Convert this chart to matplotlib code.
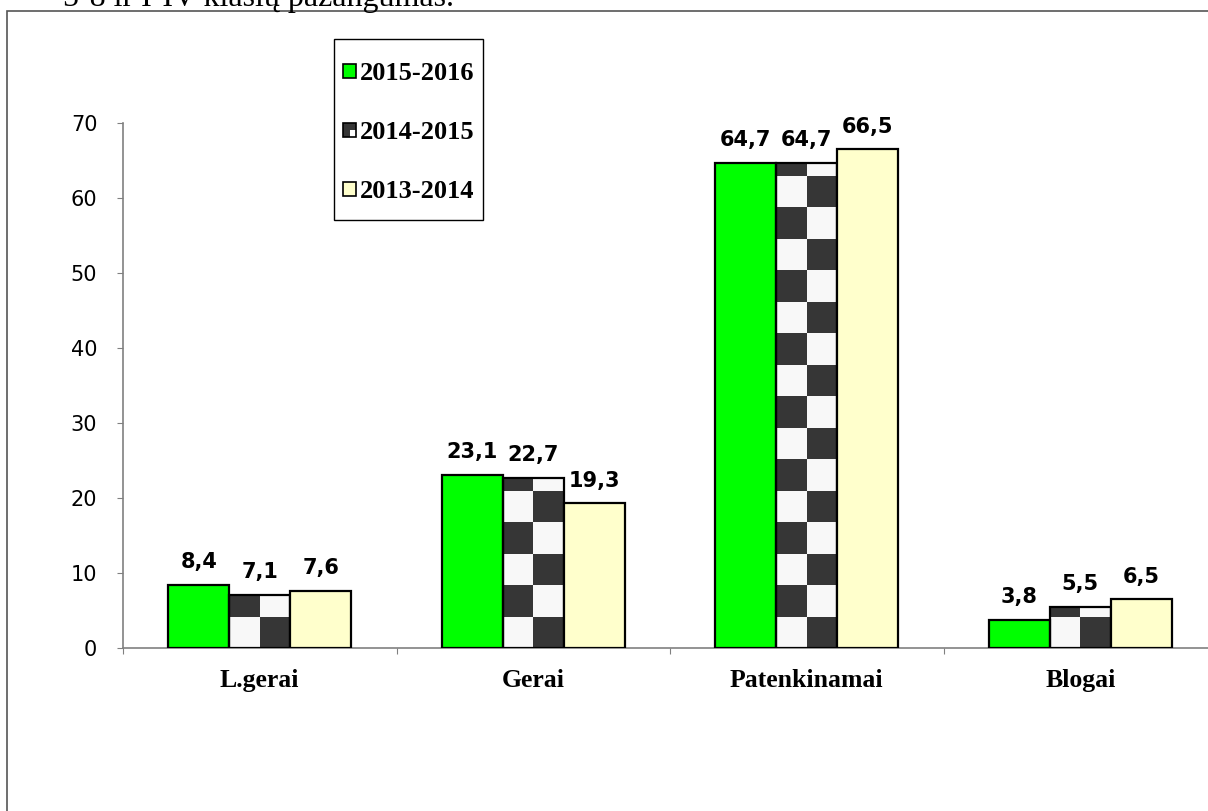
import math
import matplotlib
matplotlib.use("Agg")
import matplotlib.pyplot as plt
from matplotlib.patches import Rectangle

categories = ["L.gerai", "Gerai", "Patenkinamai", "Blogai"]
years = ["2015-2016", "2014-2015", "2013-2014"]
v_2015 = [8.4, 23.1, 64.7, 3.8]
v_2014 = [7.1, 22.7, 64.7, 5.5]
v_2013 = [7.6, 19.3, 66.5, 6.5]
yticks = [0, 10, 20, 30, 40, 50, 60, 70]

GREEN = "#00ff00"
CREAM = "#ffffcc"
DARK = "#363636"
LIGHT = "#f8f8f8"
SERIF = "Liberation Serif"
SANS = "DejaVu Sans"

W, H = 1208, 811
fig = plt.figure(figsize=(W / 100, H / 100), dpi=100)
fig.patch.set_facecolor("white")


def px(x, y):
    # pixel position (from top-left) -> figure fraction
    return x / W, 1 - y / H


# frame around the whole chart (goes past the right/bottom edge)
fig.patches.append(Rectangle((7 / W, -0.1), 1.2, 1 - 11 / H + 0.1,
                             transform=fig.transFigure, fill=False,
                             edgecolor="#555555", lw=1.2))

# heading of the page, mostly cut off at the top
fig.text(*px(63, 6), "5-8 ir I-IV klasių pažangumas.",
         fontsize=23, family=SERIF, va="baseline")

ax = fig.add_axes([123 / W, 1 - 648 / H, (1217 - 123) / W, (648 - 123) / H])

x = list(range(len(categories)))
bw = 0.223
cell = 4.2  # height of one checker square, data units

ax.bar([i - bw for i in x], v_2015, width=bw, color=GREEN,
       edgecolor="black", lw=1.6, zorder=3)

# checkerboard bars
ax.bar(x, v_2014, width=bw, color=LIGHT, lw=0, zorder=2)
for i, v in zip(x, v_2014):
    n = math.ceil(v / cell)
    for k in range(n):
        y0 = k * cell
        h = min(cell, v - y0)
        xc = i - bw / 4 if k % 2 == 1 else i + bw / 4
        ax.bar(xc, h, width=bw / 2, bottom=y0, color=DARK, lw=0, zorder=2)
ax.bar(x, v_2014, width=bw, fill=False, edgecolor="black", lw=1.6, zorder=3)

ax.bar([i + bw for i in x], v_2013, width=bw, color=CREAM,
       edgecolor="black", lw=1.6, zorder=3)

for off, vals in zip([-bw, 0, bw], [v_2015, v_2014, v_2013]):
    for i, v in zip(x, vals):
        ax.annotate(f"{v:.1f}".replace(".", ","), (i + off, v),
                    xytext=(0, 12), textcoords="offset points",
                    ha="center", va="baseline", fontsize=15,
                    fontweight="bold", family=SANS)

ax.set_xlim(-0.5, len(categories) - 0.5)
ax.set_ylim(0, 70)
ax.set_yticks(yticks)
ax.set_yticklabels([str(t) for t in yticks], fontsize=15, family=SANS)

ax.set_xticks([i - 0.5 for i in range(len(categories) + 1)])
ax.set_xticklabels([])
ax.set_xticks(x, minor=True)
ax.set_xticklabels(categories, minor=True, fontsize=18.5,
                   fontweight="bold", family=SERIF)

ax.tick_params(axis="y", direction="out", length=4.5, color="#808080",
               pad=14)
ax.tick_params(axis="x", which="major", direction="out", length=4.5,
               color="#808080")
ax.tick_params(axis="x", which="minor", length=0, pad=15)

for s in ["top", "right"]:
    ax.spines[s].set_visible(False)
for s in ["left", "bottom"]:
    ax.spines[s].set_color("#808080")
    ax.spines[s].set_linewidth(1.2)
ax.spines["bottom"].set_clip_on(False)

# legend box, drawn by hand
fig.patches.append(Rectangle(px(334, 220), 149 / W, 181 / H,
                             transform=fig.transFigure, facecolor="white",
                             edgecolor="black", lw=1.0, zorder=5))
sq = 13
for k, (label, fc) in enumerate(zip(years, [GREEN, DARK, CREAM])):
    yc = 71 + 59 * k
    fig.patches.append(Rectangle(px(343, yc + sq / 2), sq / W, sq / H,
                                 transform=fig.transFigure, facecolor=fc,
                                 edgecolor="none", zorder=6))
    if fc == DARK:
        fig.patches.append(Rectangle(px(343 + sq / 2, yc + sq / 2),
                                     sq / 2 / W, sq / 2 / H,
                                     transform=fig.transFigure,
                                     facecolor="white", edgecolor="none",
                                     zorder=6))
    fig.patches.append(Rectangle(px(343, yc + sq / 2), sq / W, sq / H,
                                 transform=fig.transFigure, fill=False,
                                 edgecolor="black", lw=1.2, zorder=7))
    fig.text(*px(360, yc + 9), label, fontsize=19, fontweight="bold",
             family=SERIF, va="baseline", zorder=7)

fig.savefig("out.png", dpi=100)
